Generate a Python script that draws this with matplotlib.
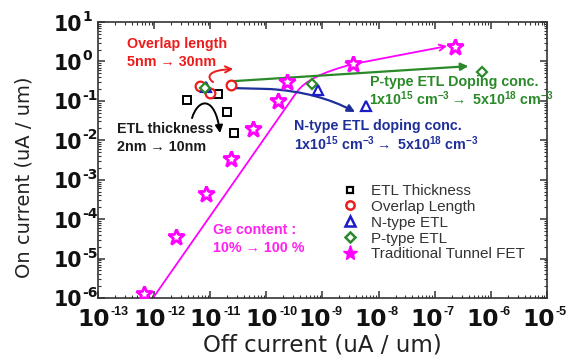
#!/usr/bin/env python3
"""
On/off current of ETL tunnel FET variants vs traditional tunnel FET.
"""
import matplotlib
matplotlib.use("Agg")
import matplotlib.pyplot as plt
from matplotlib.lines import Line2D
from matplotlib.patches import FancyArrowPatch
from matplotlib.path import Path
from matplotlib.ticker import LogLocator, NullFormatter

plt.rcParams['font.family'] = ['DejaVu Sans']
plt.rcParams['mathtext.fontset'] = 'dejavusans'
plt.rcParams['mathtext.rm'] = 'Liberation Sans'
plt.rcParams['mathtext.bf'] = 'Liberation Sans:bold'

# data (uA/um)
etl_off = [3.9e-12, 1.38e-11, 2.0e-11, 2.6e-11]
etl_on = [0.105, 0.148, 0.052, 0.015]
overlap_off = [6.6e-12, 1.0e-11, 2.34e-11]
overlap_on = [0.24, 0.158, 0.25]
ntype_off = [8.5e-12, 8.3e-10, 6.0e-9]
ntype_on = [0.22, 0.19, 0.074]
ptype_off = [8.1e-12, 6.4e-10, 7.0e-7]
ptype_on = [0.21, 0.27, 0.54]
trad_off = [6.6e-13, 2.45e-12, 8.4e-12, 2.35e-11, 5.8e-11, 1.6e-10, 2.3e-10, 3.5e-9, 2.3e-7]
trad_on = [1.3e-6, 3.5e-5, 4.3e-4, 3.3e-3, 0.019, 0.099, 0.30, 0.86, 2.3]

legend_labels = ['ETL Thickness', 'Overlap Length', 'N-type ETL', 'P-type ETL',
                 'Traditional Tunnel FET']
x_exps = list(range(-13, -4))
y_exps = list(range(-6, 2))

# trend arrows, as log10 (off, on) points along each curve
ge_arrow = [(-12.02, -6.0), (-9.47, -0.80), (-9.33, -0.50), (-9.007, -0.27),
            (-8.455, -0.066), (-6.78, 0.39)]
ge_codes = [Path.MOVETO, Path.LINETO, Path.CURVE4, Path.CURVE4, Path.CURVE4, Path.LINETO]
p_arrow = [(-10.59, -0.50), (-6.40, -0.12)]
p_codes = [Path.MOVETO, Path.LINETO]
n_arrow = [(-10.594, -0.675), (-9.934, -0.70), (-9.08, -0.777), (-8.419, -1.284)]
n_codes = [Path.MOVETO, Path.LINETO, Path.CURVE3, Path.CURVE3]
ov_arrow = [(-10.95, -0.523), (-11.075, -0.396), (-11.04, -0.218), (-10.59, -0.193)]
ov_codes = [Path.MOVETO, Path.CURVE4, Path.CURVE4, Path.CURVE4]
th_arrow = [(-11.324, -1.437), (-11.217, -0.929), (-10.914, -0.853), (-10.825, -1.817)]
th_codes = [Path.MOVETO, Path.CURVE4, Path.CURVE4, Path.CURVE4]

RED = '#ec1c1c'
GREEN = '#2a8a2a'
BLUE = '#1c1cc8'
NAVY = '#1f2f9a'
MAG = '#ff00ff'
PX = 0.72  # points per pixel at dpi 100


def add_arrow(ax, pts, codes, color, style, lw=1.4):
    verts = [(10 ** x, 10 ** y) for x, y in pts]
    arr = FancyArrowPatch(path=Path(verts, codes), arrowstyle=style,
                          mutation_scale=11, color=color, lw=lw,
                          transform=ax.transData, zorder=2)
    ax.add_patch(arr)


fig = plt.figure(figsize=(5.68, 3.58), dpi=100)
ax = fig.add_axes([0.1725, 0.1676, 0.7905, 0.7709])
ax.set_xscale('log')
ax.set_yscale('log')
ax.set_xlim(1e-13, 1e-5)
ax.set_ylim(1e-6, 1e1)

add_arrow(ax, ge_arrow, ge_codes, MAG, '->', lw=1.3)
add_arrow(ax, p_arrow, p_codes, GREEN, '-|>', lw=1.6)
add_arrow(ax, n_arrow, n_codes, NAVY, '-|>', lw=1.6)
add_arrow(ax, ov_arrow, ov_codes, RED, '->', lw=1.4)
add_arrow(ax, th_arrow, th_codes, 'black', '-|>', lw=1.4)

ax.plot(etl_off, etl_on, 's', ms=5.5, mfc='white', mec='black', mew=1.4, ls='none', zorder=3)
ax.plot(overlap_off, overlap_on, 'o', ms=7, mfc='white', mec=RED, mew=1.6, ls='none', zorder=3)
ax.plot(ntype_off, ntype_on, '^', ms=7, mfc='white', mec=BLUE, mew=1.6, ls='none', zorder=3)
ax.plot(ptype_off, ptype_on, 'D', ms=5.5, mfc='white', mec=GREEN, mew=1.6, ls='none', zorder=4)
ax.plot(trad_off, trad_on, '*', ms=12, mfc='white', mec=MAG, mew=2.0, ls='none', zorder=3)

# legend
handles = [
    Line2D([], [], ls='none', marker='s', ms=5, mfc='white', mec='black', mew=1.6),
    Line2D([], [], ls='none', marker='o', ms=6, mfc='white', mec=RED, mew=1.8),
    Line2D([], [], ls='none', marker='^', ms=6.5, mfc='white', mec=BLUE, mew=1.8),
    Line2D([], [], ls='none', marker='D', ms=5, mfc='white', mec=GREEN, mew=1.8),
    Line2D([], [], ls='none', marker='*', ms=11, mfc=MAG, mec=MAG, mew=1),
]
leg = ax.legend(handles, legend_labels, loc='upper left',
                bbox_to_anchor=(342.4 / 568, 1 - 184 / 358),
                bbox_transform=fig.transFigure, frameon=False,
                prop={'family': 'Liberation Sans', 'size': 11},
                handlelength=1.0, handletextpad=0.87, labelspacing=0.12,
                borderpad=0, borderaxespad=0)
for t in leg.get_texts():
    t.set_color('#333333')

# annotations
bold = {'family': ['Liberation Sans', 'DejaVu Sans'], 'weight': 'bold', 'size': 10.3}
ax.text(0.0646, 0.920, 'Overlap length', color=RED, transform=ax.transAxes, va='center', **bold)
ax.text(0.0646, 0.855, '5nm \u2192 30nm', color=RED, transform=ax.transAxes, va='center', **bold)
ax.text(0.0423, 0.612, 'ETL thickness', color='#1a1a1a', transform=ax.transAxes, va='center', **bold)
ax.text(0.0423, 0.547, '2nm \u2192 10nm', color='#1a1a1a', transform=ax.transAxes, va='center', **bold)
ax.text(0.256, 0.246, 'Ge content :', color='#ff22ee', transform=ax.transAxes, va='center', **bold)
ax.text(0.256, 0.181, '10% \u2192 100 %', color='#ff22ee', transform=ax.transAxes, va='center', **bold)
ax.text(0.606, 0.783, 'P-type ETL Doping conc.', color=GREEN, transform=ax.transAxes,
        va='center', **bold)
ax.text(0.604, 0.722,
        r'1x10$^{\mathbf{15}}$ cm$^{\mathbf{-3}}$$\rightarrow$ 5x10$^{\mathbf{18}}$ cm$^{\mathbf{-3}}$',
        color=GREEN, transform=ax.transAxes, va='center', math_fontfamily='custom', **bold)
ax.text(0.4365, 0.623, 'N-type ETL doping conc.', color=NAVY, transform=ax.transAxes,
        va='center', **bold)
ax.text(0.4365, 0.559,
        r'1x10$^{\mathbf{15}}$ cm$^{\mathbf{-3}}$$\rightarrow$ 5x10$^{\mathbf{18}}$ cm$^{\mathbf{-3}}$',
        color=NAVY, transform=ax.transAxes, va='center', math_fontfamily='custom', **bold)

# axes styling
for sp in ax.spines.values():
    sp.set_linewidth(1.2)
    sp.set_color('#333333')
ax.xaxis.set_major_locator(LogLocator(base=10, numticks=20))
ax.yaxis.set_major_locator(LogLocator(base=10, numticks=20))
ax.xaxis.set_minor_locator(LogLocator(base=10, subs=range(2, 10), numticks=20))
ax.yaxis.set_minor_locator(LogLocator(base=10, subs=range(2, 10), numticks=20))
ax.xaxis.set_minor_formatter(NullFormatter())
ax.yaxis.set_minor_formatter(NullFormatter())
ax.tick_params(which='both', direction='in', top=True, right=True, color='#333333',
               labelbottom=False, labelleft=False)
ax.tick_params(which='major', length=5, width=1.1)
ax.tick_params(which='minor', length=2.5, width=0.8)

# tick labels drawn as "10" plus a small superscript, as in the original
for e in x_exps:
    sup = str(e)
    dx = 4 * len(sup)
    ax.annotate('10', xy=(10.0 ** e, 0), xycoords=('data', 'axes fraction'),
                xytext=(dx * PX, -22 * PX), textcoords='offset points',
                ha='right', va='center', fontsize=16.8, fontweight='bold', color='#111111')
    ax.annotate(sup, xy=(10.0 ** e, 0), xycoords=('data', 'axes fraction'),
                xytext=((dx + 1) * PX, -14 * PX), textcoords='offset points',
                ha='left', va='center', fontsize=9, fontweight='bold',
                family='Liberation Sans', color='#111111')
for e in y_exps:
    ax.annotate('10', xy=(0, 10.0 ** e), xycoords=('axes fraction', 'data'),
                xytext=(-16 * PX, -2.5 * PX), textcoords='offset points',
                ha='right', va='center', fontsize=14.8, fontweight='bold', color='#111111')
    ax.annotate(str(e), xy=(0, 10.0 ** e), xycoords=('axes fraction', 'data'),
                xytext=(-15.5 * PX, 5 * PX), textcoords='offset points',
                ha='left', va='center', fontsize=10, fontweight='bold', color='#111111')

fig.text(322 / 568, 1 - 345 / 358, 'Off current (uA / um)', ha='center', va='center',
         fontsize=16.5, color='#222222')
fig.text(24 / 568, 1 - 177 / 358, 'On current (uA / um)', ha='center', va='center',
         rotation=90, fontsize=14, color='#222222')

fig.savefig('out.png', dpi=100)
